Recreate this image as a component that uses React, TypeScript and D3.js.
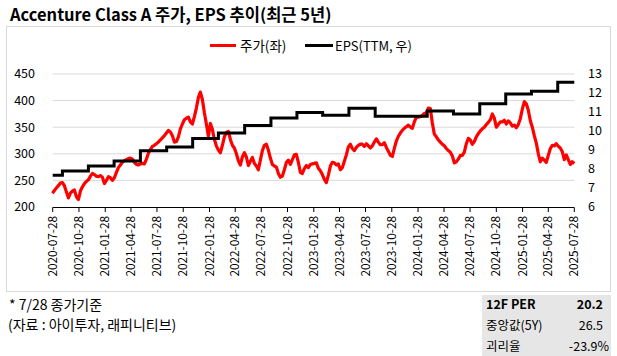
import React from "react";
import * as d3 from "d3";

const TITLE = "Accenture Class A 주가, EPS 추이(최근 5년)";
const LEGEND_PRICE = "주가(좌)";
const LEGEND_EPS = "EPS(TTM, 우)";
const NOTE1 = "* 7/28 종가기준";
const NOTE2 = "(자료 : 아이투자, 래피니티브)";

const X_TICKS = [
  "2020-07-28", "2020-10-28", "2021-01-28", "2021-04-28", "2021-07-28", "2021-10-28",
  "2022-01-28", "2022-04-28", "2022-07-28", "2022-10-28", "2023-01-28", "2023-04-28",
  "2023-07-28", "2023-10-28", "2024-01-28", "2024-04-28", "2024-07-28", "2024-10-28",
  "2025-01-28", "2025-04-28", "2025-07-28",
];
const LEFT_TICKS = [200, 250, 300, 350, 400, 450];
const RIGHT_TICKS = [6, 7, 8, 9, 10, 11, 12, 13];

// weekly closes, starting 2020-07-27, every 7 days
const PRICE_START = "2020-07-27";
const PRICE_WEEKLY = [
  226, 231, 236, 240, 245, 246, 240, 228, 217, 226, 230, 232, 219, 214, 230, 238, 244, 248, 251, 258,
  263, 261, 258, 257, 259, 256, 244, 250, 257, 255, 250, 255, 265, 274, 279, 284, 287, 289, 291, 292,
  290, 284, 280, 279, 281, 282, 281, 290, 301, 308, 314, 316, 319, 322, 326, 330, 334, 339, 344, 341,
  334, 322, 323, 332, 347, 356, 364, 367, 369, 360, 356, 370, 386, 406, 416, 402, 377, 356, 333, 357,
  346, 327, 315, 307, 302, 316, 332, 340, 342, 327, 316, 311, 300, 287, 279, 294, 302, 294, 278, 286,
  293, 282, 277, 270, 288, 306, 316, 318, 307, 292, 280, 277, 275, 263, 256, 258, 270, 284, 288, 280,
  289, 298, 299, 284, 265, 263, 272, 278, 274, 280, 281, 282, 283, 273, 268, 261, 252, 246, 260, 277,
  284, 283, 279, 281, 270, 274, 286, 298, 313, 318, 310, 306, 312, 316, 318, 318, 314, 319, 315, 311,
  315, 322, 328, 322, 317, 317, 321, 312, 305, 297, 295, 310, 324, 333, 339, 344, 348, 351, 354, 350,
  348, 360, 369, 369, 370, 372, 376, 376, 386, 385, 358, 337, 332, 326, 322, 318, 315, 310, 306, 303,
  296, 283, 285, 290, 297, 297, 303, 319, 329, 326, 318, 323, 332, 338, 343, 347, 350, 355, 359, 364,
  375, 367, 350, 355, 360, 360, 363, 356, 362, 358, 352, 354, 349, 355, 366, 384, 398, 394, 382, 362,
  350, 334, 320, 300, 285, 292, 288, 284, 297, 310, 316, 315, 319, 314, 311, 304, 289, 298, 289, 280,
  285, 282,
];

// EPS (TTM) by fiscal quarter end
const EPS_DATES = [
  "2020-07-28", "2020-08-31", "2020-11-30", "2021-02-28", "2021-05-31", "2021-08-31",
  "2021-11-30", "2022-02-28", "2022-05-31", "2022-08-31", "2022-11-30", "2023-02-28",
  "2023-05-31", "2023-08-31", "2023-11-30", "2024-02-29", "2024-05-31", "2024-08-31",
  "2024-11-30", "2025-02-28", "2025-05-31", "2025-07-28",
];
const EPS_VALUES = [
  7.67, 7.89, 8.16, 8.42, 8.96, 9.16, 9.6, 9.9, 10.29, 10.68, 10.98, 10.83,
  11.2, 10.77, 10.77, 11.05, 10.89, 11.44, 11.95, 12.09, 12.56, 12.56,
];

const TABLE_LABELS = ["12F PER", "중앙값(5Y)", "괴리율"];
const TABLE_VALUES = ["20.2", "26.5", "-23.9%"];

const FONT = "'Noto Sans CJK KR', 'Noto Sans', sans-serif";

export default function App() {
  const parse = d3.timeParse("%Y-%m-%d");
  const start = parse(PRICE_START)!;
  const price = PRICE_WEEKLY.map((v, i) => ({ date: d3.timeDay.offset(start, 7 * i), v }));
  const eps = EPS_DATES.map((d, i) => ({ date: parse(d)!, v: EPS_VALUES[i] }));
  const ticks = X_TICKS.map((t) => ({ label: t, date: parse(t)! }));

  const x = d3.scaleTime().domain([parse("2020-07-28")!, parse("2025-07-28")!]).range([52.7, 574.3]);
  const yL = d3.scaleLinear().domain([200, 450]).range([207, 74]);
  const yR = d3.scaleLinear().domain([6, 13]).range([207, 74]);

  const priceLine = d3.line<{ date: Date; v: number }>().x((d) => x(d.date)).y((d) => yL(d.v));
  const epsLine = d3
    .line<{ date: Date; v: number }>()
    .x((d) => x(d.date))
    .y((d) => yR(d.v))
    .curve(d3.curveStepAfter);

  const [x0, x1] = x.range();

  return (
    <svg
      width={617}
      height={356}
      style={{ position: "absolute", left: 0, top: 0, background: "#fff" }}
      fontFamily={FONT}
    >
      <rect x={0} y={0} width={617} height={356} fill="#fff" />
      <text x={10} y={20.5} fontSize={16.5} fontWeight="bold" fill="#000">
        {TITLE}
      </text>
      <rect x={6.5} y={26.5} width={604} height={265} fill="none" stroke="#d9d9d9" strokeWidth={1} />

      {/* legend */}
      <line x1={210} x2={236} y1={45.5} y2={45.5} stroke="#ff0000" strokeWidth={3} />
      <text x={240} y={46} dy="0.35em" fontSize={13.5} fill="#000">
        {LEGEND_PRICE}
      </text>
      <line x1={305} x2={333} y1={45.5} y2={45.5} stroke="#000" strokeWidth={3} />
      <text x={335} y={46} dy="0.35em" fontSize={13} fill="#000">
        {LEGEND_EPS}
      </text>

      {/* gridlines */}
      {LEFT_TICKS.filter((t) => t !== 200).map((t) => (
        <line key={t} x1={x0} x2={x1} y1={yL(t)} y2={yL(t)} stroke="#d9d9d9" strokeWidth={1} />
      ))}

      {/* left axis labels */}
      {LEFT_TICKS.map((t) => (
        <text key={t} x={35} y={yL(t)} dy="0.35em" textAnchor="end" fontSize={12.5} fill="#000">
          {t}
        </text>
      ))}
      {/* right axis labels */}
      {RIGHT_TICKS.map((t) => (
        <text key={t} x={588} y={yR(t)} dy="0.35em" textAnchor="start" fontSize={12.5} fill="#000">
          {t}
        </text>
      ))}

      {/* series */}
      <path d={priceLine(price) ?? ""} fill="none" stroke="#ff0000" strokeWidth={3.2} strokeLinejoin="round" />
      <path d={epsLine(eps) ?? ""} fill="none" stroke="#000" strokeWidth={3} />

      {/* x axis */}
      <line x1={x0} x2={x1} y1={207.5} y2={207.5} stroke="#000" strokeWidth={1} />
      {ticks.map((t) => (
        <g key={t.label} transform={`translate(${x(t.date)},0)`}>
          <line x1={0} x2={0} y1={207.5} y2={212} stroke="#000" strokeWidth={1} />
          <text
            transform="translate(0,216) rotate(-90)"
            textAnchor="end"
            dy="0.35em"
            fontSize={11.8}
            fill="#000"
          >
            {t.label}
          </text>
        </g>
      ))}

      {/* notes */}
      <text x={9} y={305} dy="0.35em" fontSize={14} fill="#000">
        {NOTE1}
      </text>
      <text x={8} y={325} dy="0.35em" fontSize={14} fill="#000">
        {NOTE2}
      </text>

      {/* table */}
      <rect x={482} y={295} width={129} height={61} fill="#e7e6e6" />
      {TABLE_LABELS.map((l, i) => (
        <text
          key={l}
          x={486}
          y={305 + i * 21}
          dy="0.35em"
          fontSize={12.5}
          fontWeight={i === 0 ? "bold" : "normal"}
          fill="#000"
        >
          {l}
        </text>
      ))}
      {TABLE_VALUES.map((v, i) => (
        <text
          key={v}
          x={i === 2 ? 609 : 603}
          y={305 + i * 21}
          dy="0.35em"
          textAnchor="end"
          fontSize={12.5}
          fontWeight={i === 0 ? "bold" : "normal"}
          fill="#000"
        >
          {v}
        </text>
      ))}
    </svg>
  );
}
